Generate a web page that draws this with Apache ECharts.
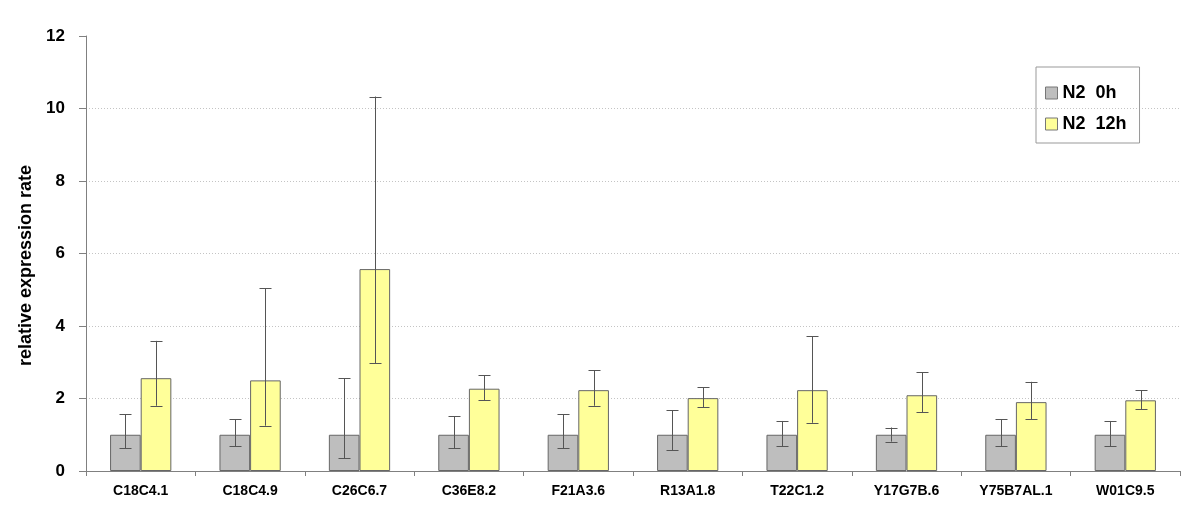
<!DOCTYPE html>
<html>
<head>
<meta charset="utf-8">
<script src="https://cdn.jsdelivr.net/npm/echarts@6/dist/echarts.min.js"></script>
<style>html,body{margin:0;padding:0;background:#fff;}#c{width:1200px;height:523px;}</style>
</head>
<body>
<div id="c"></div>
<script>
const categories = ['C18C4.1','C18C4.9','C26C6.7','C36E8.2','F21A3.6','R13A1.8','T22C1.2','Y17G7B.6','Y75B7AL.1','W01C9.5'];
const n2_0h = [1, 1, 1, 1, 1, 1, 1, 1, 1, 1];
const n2_0h_low = [0.63, 0.68, 0.35, 0.63, 0.63, 0.57, 0.68, 0.81, 0.68, 0.68];
const n2_0h_high = [1.56, 1.43, 2.56, 1.51, 1.56, 1.67, 1.38, 1.20, 1.43, 1.38];
const n2_12h = [2.56, 2.50, 5.57, 2.27, 2.23, 2.01, 2.23, 2.09, 1.90, 1.95];
const n2_12h_low = [1.80, 1.25, 2.97, 1.95, 1.80, 1.76, 1.33, 1.62, 1.43, 1.70];
const n2_12h_high = [3.59, 5.04, 10.33, 2.64, 2.78, 2.31, 3.72, 2.73, 2.46, 2.23];
const yTicks = [0, 2, 4, 6, 8, 10, 12];

const FONT = '"Liberation Sans", Arial, sans-serif';
const chart = echarts.init(document.getElementById('c'));

function errData(lo, hi) {
  return categories.map((c, i) => [i, lo[i], hi[i]]);
}
function errSeries(name, lo, hi, sign) {
  return {
    type: 'custom',
    name: name,
    z: 5,
    silent: true,
    encode: { x: 0, y: [1, 2] },
    data: errData(lo, hi),
    renderItem: function (params, api) {
      const idx = api.value(0);
      const pLo = api.coord([idx, api.value(1)]);
      const pHi = api.coord([idx, api.value(2)]);
      const band = api.size([1, 0])[0];
      const cx = Math.round(pLo[0] + sign * band * 0.14) + 0.5;
      const hw = 6;
      const style = { stroke: '#555', lineWidth: 1 };
      return {
        type: 'group',
        children: [
          { type: 'line', shape: { x1: cx, y1: pLo[1], x2: cx, y2: pHi[1] }, style: style },
          { type: 'line', shape: { x1: cx - hw, y1: Math.round(pHi[1]) + 0.5, x2: cx + hw, y2: Math.round(pHi[1]) + 0.5 }, style: style },
          { type: 'line', shape: { x1: cx - hw, y1: Math.round(pLo[1]) + 0.5, x2: cx + hw, y2: Math.round(pLo[1]) + 0.5 }, style: style }
        ]
      };
    }
  };
}

const splitColors = yTicks.map((t, i) => i === yTicks.length - 1 ? 'rgba(0,0,0,0)' : '#c4c4c4');

chart.setOption({
  animation: false,
  backgroundColor: '#fff',
  grid: { left: 86, right: 20, top: 36, bottom: 52 },
  legend: {
    data: [
      { name: 'N2  0h', itemStyle: { color: '#bebebe', borderColor: '#777', borderWidth: 1 } },
      { name: 'N2  12h', itemStyle: { color: '#ffff99', borderColor: '#777', borderWidth: 1 } }
    ],
    orient: 'vertical',
    left: 1036,
    top: 67,
    padding: [17, 13, 10, 9],
    itemGap: 13,
    itemWidth: 12,
    itemHeight: 12,
    borderColor: '#999',
    borderWidth: 1,
    icon: 'rect',
    textStyle: { fontFamily: FONT, fontWeight: 'bold', fontSize: 18, color: '#000', padding: [0, 0, 0, 0] }
  },
  xAxis: {
    type: 'category',
    data: categories,
    axisLine: { lineStyle: { color: '#808080', width: 1 } },
    axisTick: { show: true, length: 5, lineStyle: { color: '#808080' } },
    axisLabel: { fontFamily: FONT, fontWeight: 'bold', fontSize: 14, color: '#000', margin: 13, interval: 0 },
    splitLine: { show: false }
  },
  yAxis: {
    type: 'value',
    min: 0, max: 12, interval: 2,
    name: 'relative expression rate',
    nameLocation: 'middle',
    nameGap: 51,
    nameTextStyle: { fontFamily: FONT, fontWeight: 'bold', fontSize: 18, color: '#000', padding: [0, 24, 0, 0] },
    axisLine: { show: true, lineStyle: { color: '#808080', width: 1 } },
    axisTick: { show: true, length: 7, lineStyle: { color: '#808080' } },
    axisLabel: { fontFamily: FONT, fontWeight: 'bold', fontSize: 17, color: '#000', margin: 21 },
    splitLine: { show: true, lineStyle: { color: splitColors, type: [1, 2], width: 1 } }
  },
  series: [
    {
      name: 'N2  0h', type: 'bar', data: n2_0h, barWidth: '28%', barGap: '0%',
      itemStyle: { color: '#bebebe', borderColor: '#666', borderWidth: 1 }
    },
    {
      name: 'N2  12h', type: 'bar', data: n2_12h, barWidth: '28%', barGap: '0%',
      itemStyle: { color: '#ffff99', borderColor: '#666', borderWidth: 1 }
    },
    errSeries('err0', n2_0h_low, n2_0h_high, -1),
    errSeries('err12', n2_12h_low, n2_12h_high, 1)
  ]
});
</script>
</body>
</html>
